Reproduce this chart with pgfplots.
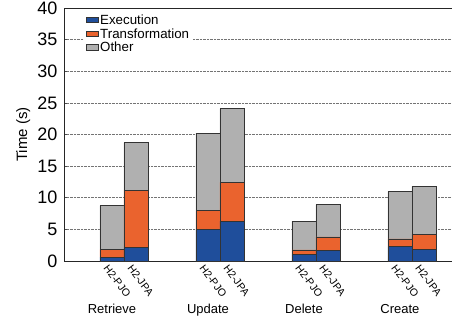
\documentclass[border=0pt]{standalone}
\usepackage{pgfplots}
\pgfplotsset{compat=1.18}
\usepackage{fontspec}
\setmainfont{Liberation Sans}
\definecolor{cexec}{RGB}{31,78,155}
\definecolor{ctrans}{RGB}{234,99,46}
\definecolor{cother}{RGB}{176,176,176}
\begin{document}
\begin{tikzpicture}
\begin{axis}[
  scale only axis,
  width=388pt, height=253pt,
  ybar stacked,
  bar width=1,
  xmin=0, xmax=16.17,
  ymin=0, ymax=40,
  ytick={0,5,...,40},
  xtick={2,3,6,7,10,11,14,15},
  xticklabels={H2-PJO,H2-JPA,H2-PJO,H2-JPA,H2-PJO,H2-JPA,H2-PJO,H2-JPA},
  x tick label style={font=\fontsize{10.5}{12}\selectfont, rotate=-53, anchor=west, xshift=-3pt, yshift=-8pt},
  y tick label style={font=\fontsize{18}{20}\selectfont, xshift=-3pt},
  /pgf/number format/assume math mode=true,
  xtick style={draw=none},
  ytick style={black!70, line width=0.5pt},
  major tick length=3pt,
  tick align=inside,
  axis x line*=box,
  axis y line*=left,
  axis line style={line width=0.9pt, black!85},
  ymajorgrids,
  major grid style={densely dotted, black!55, line width=0.6pt},
  ylabel={Time (s)},
  ylabel style={font=\fontsize{15}{17}\selectfont, at={(axis description cs:-0.105,0.5)}, anchor=center},
  legend style={at={(0.05,0.99)}, anchor=north west, draw=none, fill=white,
    font=\fontsize{13.3}{14}\selectfont, row sep=-1.5pt, inner sep=2pt},
  legend cell align=left,
  legend image code/.code={\draw[#1, draw=black!80, line width=0.6pt] (0pt,-2.5pt) rectangle (12pt,3pt);},
  every axis plot/.append style={draw=black!80, line width=0.6pt},
  clip=false,
]
\addplot[fill=cexec] coordinates {(2,0.6) (3,2.1) (6,5.0) (7,6.3) (10,1.05) (11,1.7) (14,2.27) (15,1.85)};
\addplot[fill=ctrans] coordinates {(2,1.25) (3,9.1) (6,3.0) (7,6.15) (10,0.7) (11,2.1) (14,1.23) (15,2.35)};
\addplot[fill=cother] coordinates {(2,6.9) (3,7.5) (6,12.2) (7,11.65) (10,4.55) (11,5.1) (14,7.46) (15,7.6)};
\legend{Execution,Transformation,Other}
\node[font=\fontsize{13}{14}\selectfont, anchor=base] at (axis cs:2,0) [yshift=-52pt] {Retrieve};
\node[font=\fontsize{13}{14}\selectfont, anchor=base] at (axis cs:6,0) [yshift=-52pt] {Update};
\node[font=\fontsize{13}{14}\selectfont, anchor=base] at (axis cs:10,0) [yshift=-52pt] {Delete};
\node[font=\fontsize{13}{14}\selectfont, anchor=base] at (axis cs:14,0) [yshift=-52pt] {Create};
\end{axis}
\pgfresetboundingbox
\path (current axis.south west) ++(-64pt,-57pt) rectangle ++(452pt,318pt);
\end{tikzpicture}
\end{document}
